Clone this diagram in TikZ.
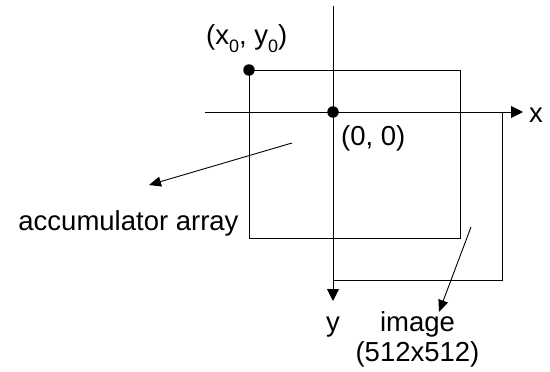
\documentclass[tikz,border=0pt]{standalone}
\usepackage{fontspec}
\setmainfont{Liberation Sans}
\usetikzlibrary{arrows.meta}
\newcommand{\mysub}[1]{\raisebox{-0.28em}{\fontsize{18}{20}\selectfont #1}}
\begin{document}
\begin{tikzpicture}[x=1pt,y=-1pt,
  line/.style={line width=1pt,black},
  axis/.style={line width=1pt,-{Triangle[length=12pt,width=12pt]}},
  pointer/.style={line width=0.9pt,-{Triangle[length=12pt,width=10pt]}},
  dot/.style={circle,fill=black,inner sep=0pt,minimum size=11.5pt},
  lbl/.style={font=\fontsize{27.5}{33}\selectfont,inner sep=0pt}]
\useasboundingbox (0,0) rectangle (550,372);
% accumulator array rectangle
\draw[line] (249,70) rectangle (460,238);
% image rectangle
\draw[line] (333,112) rectangle (502.5,280.5);
% axes
\coordinate (xs) at (205,112);
\coordinate (xe) at (523,112);
\coordinate (ys) at (333,6);
\coordinate (ye) at (333,301);
\draw[axis] (xs) -- (xe);
\draw[axis] (ys) -- (ye);
% dots
\node[dot] (p0) at (249,70) {};
\node[dot] (o) at (333,112) {};
% labels
\node[lbl,anchor=base west] (lp0) at (206,45) {(x\mysub{0}, y\mysub{0})};
\node[lbl,anchor=base west] (lo) at (341,145) {(0, 0)};
\node[lbl,anchor=base west] (lx) at (529,122) {x};
\node[lbl,anchor=base] (ly) at (333,331) {y};
\node[lbl,anchor=base] (acc) at (128.5,230) {accumulator array};
\node[lbl,anchor=base] (img) at (417.5,331) {image};
\node[lbl,anchor=base] (sz) at (417.5,361) {(512x512)};
% pointers
\coordinate (a1) at (292,143);
\coordinate (a2) at (149,185);
\coordinate (b1) at (471,227);
\coordinate (b2) at (439,312);
\draw[pointer] (a1) -- (a2);
\draw[pointer] (b1) -- (b2);
\end{tikzpicture}
\end{document}
